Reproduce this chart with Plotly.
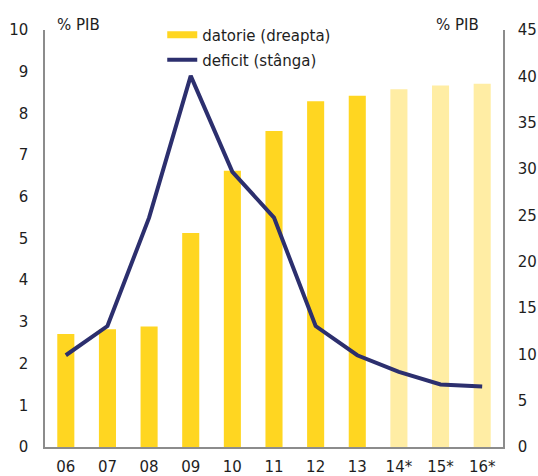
import plotly.graph_objects as go

# Years (forecast years marked with *)
years = ["06", "07", "08", "09", "10", "11", "12", "13", "14*", "15*", "16*"]
# Public debt, % of GDP (right axis)
datorie = [12.2, 12.7, 13.0, 23.1, 29.8, 34.1, 37.3, 37.9, 38.6, 39.0, 39.2]
# Budget deficit, % of GDP (left axis)
deficit = [2.2, 2.9, 5.5, 8.9, 6.6, 5.5, 2.9, 2.2, 1.8, 1.5, 1.45]

YELLOW = "#FFD621"
YELLOW_LIGHT = "#FFEDA4"
NAVY = "#2C2F6E"
AXIS_GREY = "#8C8C8C"
TEXT = "#1E1E1E"
FONT = "DejaVu Sans"

bar_colors = [YELLOW_LIGHT if y.endswith("*") else YELLOW for y in years]

fig = go.Figure()

# Debt bars on the primary axis (drawn underneath)
fig.add_trace(go.Bar(
    x=years, y=datorie, marker=dict(color=bar_colors, line=dict(width=0)),
    yaxis="y", showlegend=False, hoverinfo="x+y",
))
# Deficit line on the overlaying axis (drawn on top)
fig.add_trace(go.Scatter(
    x=years, y=deficit, mode="lines", yaxis="y2",
    line=dict(color=NAVY, width=4), showlegend=False,
))

# Legend entries
fig.add_trace(go.Scatter(
    x=[None], y=[None], mode="lines", name="datorie (dreapta)",
    line=dict(color=YELLOW, width=7), legend="legend",
))
fig.add_trace(go.Scatter(
    x=[None], y=[None], mode="lines", name="deficit (stânga)",
    line=dict(color=NAVY, width=4), legend="legend2",
))

legend_common = dict(
    xanchor="left", yanchor="middle", bgcolor="rgba(0,0,0,0)",
    font=dict(family=FONT, size=15, color=TEXT),
    itemwidth=30, borderwidth=0,
)

fig.update_layout(
    width=538, height=476,
    margin=dict(l=45, r=35, t=30, b=29),
    paper_bgcolor="white", plot_bgcolor="white",
    bargap=0.59,
    font=dict(family=FONT, size=15, color=TEXT),
    xaxis=dict(
        type="category", showgrid=False, zeroline=False, automargin=False,
        showline=True, linecolor=AXIS_GREY, linewidth=1.5,
        ticks="", ticklabelstandoff=5,
        tickfont=dict(family=FONT, size=15, color=TEXT),
    ),
    yaxis=dict(
        side="right", range=[0, 45], dtick=5, showgrid=False, zeroline=False,
        automargin=False,
        showline=True, linecolor=AXIS_GREY, linewidth=1.5,
        ticks="", ticklabelstandoff=10,
        tickfont=dict(family=FONT, size=15, color=TEXT),
    ),
    yaxis2=dict(
        side="left", overlaying="y", range=[0, 10], dtick=1,
        showgrid=False, zeroline=False, automargin=False,
        showline=True, linecolor=AXIS_GREY, linewidth=1.5,
        ticks="", ticklabelstandoff=12,
        tickfont=dict(family=FONT, size=15, color=TEXT),
    ),
    legend=dict(x=0.256, y=0.988, **legend_common),
    legend2=dict(x=0.256, y=0.928, **legend_common),
    annotations=[
        dict(text="% PIB", xref="paper", yref="paper", x=0.022, y=1.013,
             xanchor="left", yanchor="middle", showarrow=False,
             font=dict(family=FONT, size=15, color=TEXT)),
        dict(text="% PIB", xref="paper", yref="paper", x=0.952, y=1.013,
             xanchor="right", yanchor="middle", showarrow=False,
             font=dict(family=FONT, size=15, color=TEXT)),
    ],
)

fig.write_html("out.html")
